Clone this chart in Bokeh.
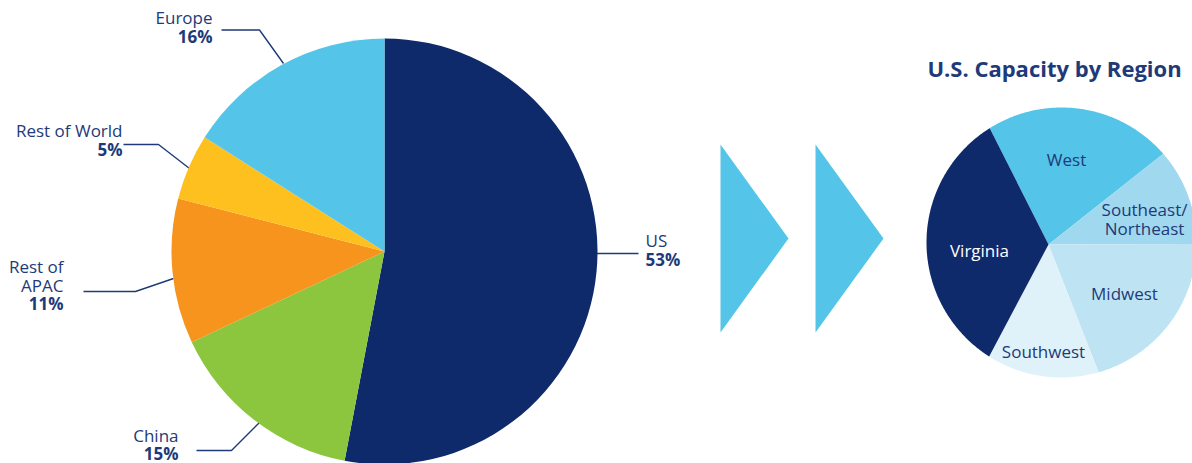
import math
from bokeh.plotting import figure
from bokeh.models import Range1d
from bokeh.core.properties import value
from bokeh.embed import file_html
from bokeh.resources import INLINE

# ---------------- data ----------------
regions = ["US", "China", "Rest of APAC", "Rest of World", "Europe"]
region_name_lines = [["US"], ["China"], ["Rest of", "APAC"], ["Rest of World"], ["Europe"]]
region_pct = [53, 15, 11, 5, 16]
region_colors = ["#0f2a6a", "#8cc63f", "#f7941e", "#fec01e", "#54c5e8"]

us_regions = ["West", "Southeast/Northeast", "Midwest", "Southwest", "Virginia"]
us_name_lines = [["West"], ["Southeast/", "Northeast"], ["Midwest"], ["Southwest"], ["Virginia"]]
us_share = [21.8, 10.6, 19.1, 13.7, 34.8]
us_colors = ["#54c5e8", "#a0d8ef", "#bee4f4", "#dff1f9", "#0f2a6a"]
us_text_colors = ["#1e3a78", "#1e3a78", "#1e3a78", "#1e3a78", "#ffffff"]

title_text = "U.S. Capacity by Region"

# ---------------- layout (screen pixel coordinates) ----------------
W, H = 1192, 463
TEXT_DY = 7.5   # compensation for svg text baseline placement


def Y(sy):
    return H - sy


def YT(sy):
    return H - (sy - TEXT_DY)


NAVY_TEXT = "#1e3a78"
FONT = "Open Sans"
FS = "17px"
BIG_C = (384, 251)
BIG_R = 213
SMALL_PIVOT = (1048, 244)
SMALL_C = (1061, 242)
SMALL_R = 135
SMALL_START = 116.8

# label layout: (align, x, baselines..., leader polyline)
big_label_layout = {
    "US": ("left", 645, [247, 266], [(594, 253), (638, 253)]),
    "China": ("right", 178, [442, 460], [(196, 450), (231, 450), (259, 422)]),
    "Rest of APAC": ("right", 63, [273, 292, 310], [(83, 291), (135, 291), (173, 278)]),
    "Rest of World": ("right", 122, [137, 156], [(123, 144), (158, 144), (189, 168)]),
    "Europe": ("right", 212, [24, 43], [(221, 29.5), (259, 29.5), (283, 63)]),
}
small_label_layout = {
    "West": (1066, [166]),
    "Southeast/Northeast": (1144, [216.5, 235]),
    "Midwest": (1124, [300.5]),
    "Southwest": (1043, [358]),
    "Virginia": (979, [257]),
}
arrows = [[(720, 144), (788, 238), (720, 332)], [(815, 144), (883, 238), (815, 332)]]

p = figure(width=W, height=H, output_backend="svg", toolbar_location=None,
           x_range=Range1d(0, W), y_range=Range1d(0, H),
           x_axis_type=None, y_axis_type=None, min_border=0,
           background_fill_color="white", border_fill_color="white")
p.grid.visible = False
p.outline_line_color = None

# leader lines (drawn under the pie)
for name in regions:
    pts = big_label_layout[name][3]
    p.line([q[0] for q in pts], [Y(q[1]) for q in pts], line_color=NAVY_TEXT, line_width=1.4)

# big pie
cum = 0
starts, ends = [], []
for v in region_pct:
    starts.append(math.radians(90 - 360 * cum / 100))
    cum += v
    ends.append(math.radians(90 - 360 * cum / 100))
p.wedge(x=BIG_C[0], y=Y(BIG_C[1]), radius=BIG_R, start_angle=starts, end_angle=ends,
        direction="clock", fill_color=region_colors, line_color=None)

# big labels
for name, lines, pct in zip(regions, region_name_lines, region_pct):
    align, x, bls, _ = big_label_layout[name]
    for ln, bl in zip(lines, bls[:len(lines)]):
        p.text(x=[x], y=[YT(bl)], text=[ln], text_align=align, text_baseline="alphabetic",
               text_font=value(FONT), text_font_size=FS, text_color=NAVY_TEXT)
    p.text(x=[x], y=[YT(bls[-1])], text=[f"{pct}%"], text_align=align, text_baseline="alphabetic",
           text_font=value(FONT), text_font_size=FS, text_font_style="bold", text_color=NAVY_TEXT)

# arrows
p.patches([[q[0] for q in a] for a in arrows], [[Y(q[1]) for q in a] for a in arrows],
          fill_color="#54c5e8", line_color=None)

# small pie: slices radiate from a pivot point inside a circle
px, py = SMALL_PIVOT[0], Y(SMALL_PIVOT[1])
cx, cy = SMALL_C[0], Y(SMALL_C[1])


def edge_point(theta):
    dx, dy = math.cos(theta), math.sin(theta)
    ox, oy = px - cx, py - cy
    b = dx * ox + dy * oy
    c = ox * ox + oy * oy - SMALL_R ** 2
    t = -b + math.sqrt(b * b - c)
    return px + t * dx, py + t * dy


xs, ys = [], []
a0 = SMALL_START
for v in us_share:
    a1 = a0 - 360 * v / 100
    n = max(8, int(abs(a1 - a0) * 2))
    sx, sy = [px], [py]
    for k in range(n + 1):
        th = math.radians(a0 + (a1 - a0) * k / n)
        ex, ey = edge_point(th)
        sx.append(ex)
        sy.append(ey)
    xs.append(sx)
    ys.append(sy)
    a0 = a1
p.patches(xs, ys, fill_color=us_colors, line_color=None)

for name, lines, tc in zip(us_regions, us_name_lines, us_text_colors):
    x, bls = small_label_layout[name]
    for ln, bl in zip(lines, bls):
        p.text(x=[x], y=[YT(bl)], text=[ln], text_align="center", text_baseline="alphabetic",
               text_font=value(FONT), text_font_size=FS, text_color=tc)

p.text(x=[1054], y=[H - (76.5 - 9.5)], text=[title_text], text_align="center", text_baseline="alphabetic",
       text_font=value(FONT), text_font_size="22px", text_font_style="bold", text_color=NAVY_TEXT)

open("out.html", "w").write(file_html(p, INLINE))
